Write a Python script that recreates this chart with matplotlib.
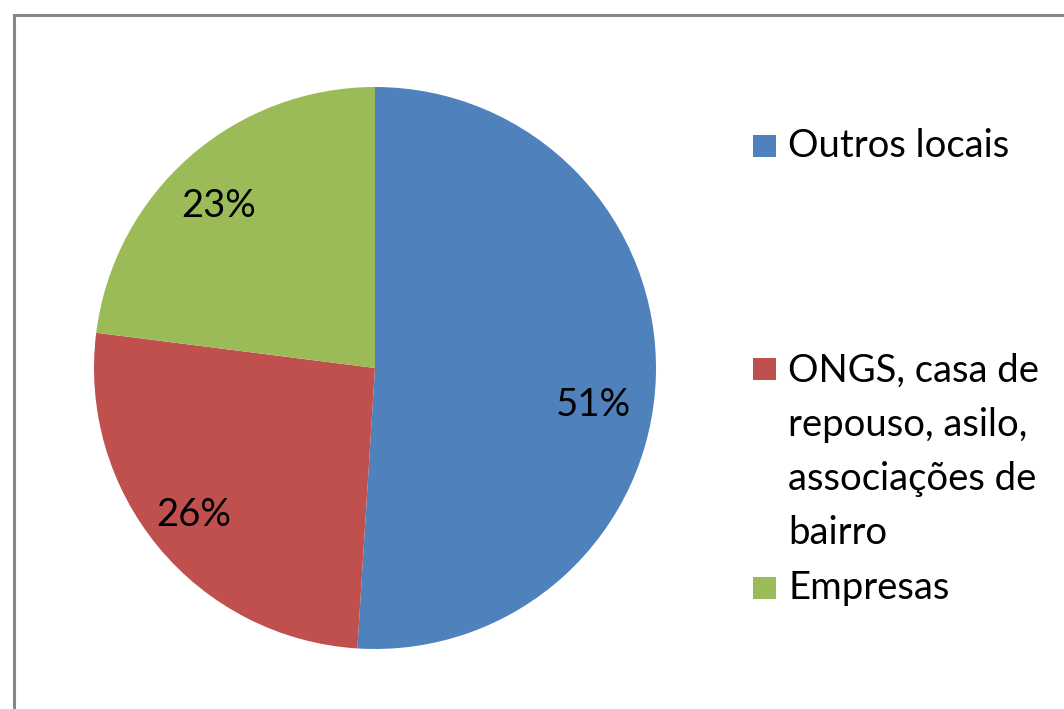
import matplotlib.pyplot as plt
import numpy as np
from matplotlib.patches import Rectangle

categories = ["Outros locais", "ONGS, casa de\nrepouso, asilo,\nassociações de\nbairro", "Empresas"]
values = [51, 26, 23]
colors = ["#4F81BD", "#C0504D", "#9BBB59"]
# label placement in polar form (radius fraction, angle in degrees)
label_radius = [0.79, 0.83, 0.80]
label_angle = [-9.7, -141.0, 134.0]

W, H = 1064, 709
plt.rcParams["font.family"] = ["Lato", "DejaVu Sans"]
FS = 27.5

fig = plt.figure(figsize=(W / 100, H / 100), dpi=100)
fig.patch.set_facecolor("white")

# chart frame (cropped on the right and bottom)
fig.patches.append(Rectangle((14 / W, -0.1), 1.2, 1 - 15 / H + 0.1, transform=fig.transFigure,
                             fill=False, edgecolor="#878787", linewidth=2.2))

cx, cy, r = 375, 368, 281
ax = fig.add_axes([(cx - r) / W, (H - cy - r) / H, 2 * r / W, 2 * r / H])
wedges, _ = ax.pie(values, colors=colors, startangle=90, counterclock=False,
                   radius=1, wedgeprops={"linewidth": 0})
ax.set_xlim(-1, 1)
ax.set_ylim(-1, 1)
ax.set_aspect("equal")
ax.axis("off")

for v, rr, ang in zip(values, label_radius, label_angle):
    t = np.deg2rad(ang)
    ax.text(rr * np.cos(t), rr * np.sin(t), f"{v}%", ha="center", va="center",
            fontsize=FS, color="black")

# legend drawn by hand to follow the uneven spacing of the original
legend_y = [146, 369, 588]
for cat, col, y in zip(categories, colors, legend_y):
    fig.patches.append(Rectangle((753 / W, (H - y - 11) / H), 23 / W, 22 / H,
                                 transform=fig.transFigure, facecolor=col, edgecolor="none"))
    if "\n" in cat:
        fig.text(788 / W, (H - y + 16) / H, cat, ha="left", va="top",
                 fontsize=FS, linespacing=1.62, color="black")
    else:
        fig.text(788 / W, (H - y) / H, cat, ha="left", va="center",
                 fontsize=FS, color="black")

fig.savefig("out.png", dpi=100)
